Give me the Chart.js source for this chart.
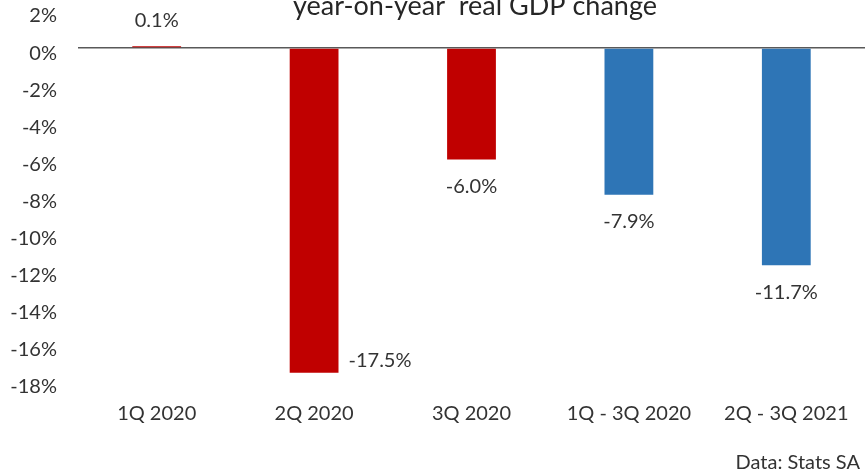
<!DOCTYPE html>
<html>
<head>
<meta charset="utf-8">
<script src="https://cdn.jsdelivr.net/npm/chart.js@4.4.0/dist/chart.umd.min.js"></script>
<style>
  html, body { margin: 0; padding: 0; background: #fff; }
  #wrap { position: relative; width: 865px; height: 472px; }
</style>
</head>
<body>
<div id="wrap"><canvas id="gdpChart"></canvas></div>
<script>
const periods = ['1Q 2020', '2Q 2020', '3Q 2020', '1Q - 3Q 2020', '2Q - 3Q 2021'];
const gdpChange = [0.1, -17.5, -6.0, -7.9, -11.7];
const barColors = ['#C00000', '#C00000', '#C00000', '#2E75B6', '#2E75B6'];
const yTicks = [2, 0, -2, -4, -6, -8, -10, -12, -14, -16, -18];
const titleText = 'year-on-year  real GDP change';
const sourceText = 'Data: Stats SA';

const FONT = 'Lato, "Open Sans", sans-serif';

// title, source note and the value labels
const textPlugin = {
  id: 'textPlugin',
  afterDatasetsDraw(chart) {
    const ctx = chart.ctx;
    const area = chart.chartArea;
    ctx.save();
    ctx.fillStyle = '#262626';
    ctx.font = '27px ' + FONT;
    ctx.textAlign = 'center';
    ctx.textBaseline = 'alphabetic';
    ctx.fillText(titleText, 475, 15);

    ctx.fillStyle = '#333333';
    ctx.font = '20px ' + FONT;
    ctx.textAlign = 'right';
    ctx.fillText(sourceText, 860, 469);

    const meta = chart.getDatasetMeta(0);
    ctx.textBaseline = 'middle';
    meta.data.forEach((bar, i) => {
      const v = gdpChange[i];
      const txt = v.toFixed(1) + '%';
      if (v >= 0) {
        ctx.textAlign = 'center';
        ctx.fillText(txt, bar.x, bar.y - 26);
      } else if (bar.y + 36 > area.bottom) {
        ctx.textAlign = 'left';
        ctx.fillText(txt, bar.x + bar.width / 2 + 10, bar.y - 12);
      } else {
        ctx.textAlign = 'center';
        ctx.fillText(txt, bar.x, bar.y + 27);
      }
    });
    ctx.restore();
  }
};

new Chart(document.getElementById('gdpChart'), {
  type: 'bar',
  data: {
    labels: periods,
    datasets: [{
      data: gdpChange,
      backgroundColor: barColors,
      borderWidth: 0,
      categoryPercentage: 1,
      barPercentage: 0.31
    }]
  },
  options: {
    responsive: true,
    maintainAspectRatio: false,
    animation: false,
    layout: { padding: { top: 11, right: 0, bottom: 0, left: 0 } },
    plugins: {
      legend: { display: false },
      tooltip: { enabled: false }
    },
    scales: {
      x: {
        grid: { display: false },
        border: { display: false },
        ticks: {
          color: '#333333',
          font: { family: FONT, size: 20 },
          padding: 12,
          maxRotation: 0,
          autoSkip: false
        },
        afterFit(scale) {
          scale.height = 90;
          scale.paddingLeft = 0;
          scale.paddingRight = 0;
        }
      },
      y: {
        min: -18,
        max: 2,
        afterBuildTicks(scale) { scale.ticks = yTicks.map(v => ({ value: v })); },
        grid: {
          drawTicks: false,
          lineWidth: ctx => (ctx.tick && ctx.tick.value === 0 ? 1.5 : 0),
          color: ctx => (ctx.tick && ctx.tick.value === 0 ? '#595959' : 'rgba(0,0,0,0)')
        },
        border: { display: false },
        ticks: {
          color: '#333333',
          font: { family: FONT, size: 20 },
          padding: 21,
          labelOffset: 5,
          callback: v => v + '%'
        },
        afterFit(scale) {
          scale.width = 78;
          scale.paddingTop = 0;
          scale.paddingBottom = 0;
        }
      }
    }
  },
  plugins: [textPlugin]
});
</script>
</body>
</html>
